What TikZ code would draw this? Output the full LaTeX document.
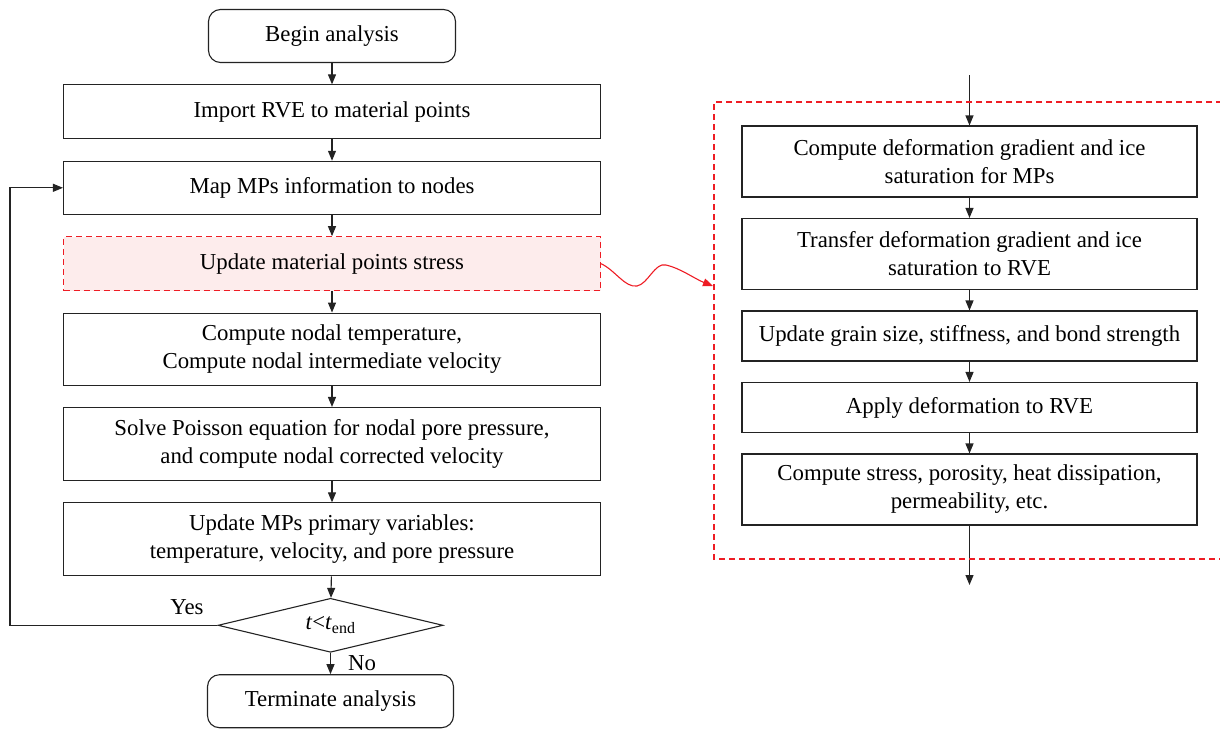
\documentclass[tikz,border=0pt]{standalone}
\usepackage{fontspec}
\setmainfont{Liberation Serif}
\newfontfamily\flowfamily{Liberation Serif}
\usetikzlibrary{shapes.geometric, arrows.meta, positioning, calc}
\definecolor{linegray}{RGB}{35,35,35}
\definecolor{stressred}{RGB}{238,28,36}
\definecolor{stressfill}{RGB}{253,236,236}
\newcommand{\flowfont}{\flowfamily\fontsize{22.8}{28}\selectfont}
\tikzset{
    box/.style={
        rectangle, minimum width=537pt, minimum height=#1,
        draw=linegray, line width=1.1pt,
        font=\flowfont, align=center, inner sep=2pt
    },
    rvebox/.style={
        box=#1, minimum width=455pt
    },
    startbox/.style={
        box=53pt, rounded corners=12pt, minimum width=247pt
    },
    stressbox/.style={
        box=54pt, draw=stressred, fill=stressfill,
        dash pattern=on 6pt off 4pt
    },
    decision/.style={
        diamond, aspect=4.2, minimum width=225pt, minimum height=54pt,
        draw=linegray, line width=1.1pt, font=\flowfont, inner sep=1pt
    },
    arrow/.style={-{Triangle[length=10pt, width=8pt]}, line width=1.1pt, color=linegray},
    redarrow/.style={-{Triangle[length=10pt, width=8pt]}, line width=1.1pt, color=stressred},
    subframe/.style={draw=stressred, line width=1.1pt, dash pattern=on 6pt off 4pt},
    anno/.style={font=\flowfont}
}
\begin{document}
\begin{tikzpicture}[x=1pt, y=-1pt, node distance=21.3pt]
    \useasboundingbox (0,0) rectangle (1220,731);

    % Main MPM loop - vertical
    \node[startbox] (begin) at (332,36) {Begin analysis};
    \node[box=54pt, below=of begin] (import) {Import RVE to material points};
    \node[box=53pt, below=of import] (map) {Map MPs information to nodes};
    \node[stressbox, below=of map] (upd) {Update material points stress};
    \node[box=72pt, below=of upd] (temp) {Compute nodal temperature,\\Compute nodal intermediate velocity};
    \node[box=73pt, below=of temp] (poisson) {Solve Poisson equation for nodal pore pressure,\\and compute nodal corrected velocity};
    \node[box=73pt, below=of poisson] (prim) {Update MPs primary variables:\\temperature, velocity, and pore pressure};
    \node[decision, below=of prim, xshift=-1.5pt] (check) {\textit{t}<\textit{t}\textsubscript{end}};
    \node[startbox, below=of check, minimum width=246pt] (term) {Terminate analysis};

    % Arrows
    \draw[arrow] (begin) -- (import);
    \draw[arrow] (import) -- (map);
    \draw[arrow] (map) -- (upd);
    \draw[arrow] (upd) -- (temp);
    \draw[arrow] (temp) -- (poisson);
    \draw[arrow] (poisson) -- (prim);
    \draw[arrow] (prim) -- (check);
    \draw[arrow] (check) -- (term);
    \node[anno] at (362,663) {No};

    % Loop back
    \coordinate (loopx) at (10,0);
    \draw[arrow] (check.west) -- (check.west -| loopx) |- (map.west);
    \node[anno] at (187,607) {Yes};

    % RVE sub-steps - right column
    \begin{scope}[node distance=20.4pt]
        \node[rvebox=71pt] (grad) at (969.5,161.5) {Compute deformation gradient and ice\\saturation for MPs};
        \node[rvebox=71pt, below=of grad] (transfer) {Transfer deformation gradient and ice\\saturation to RVE};
        \node[rvebox=50pt, below=of transfer] (grain) {Update grain size, stiffness, and bond strength};
        \node[rvebox=50pt, below=of grain] (deform) {Apply deformation to RVE};
        \node[rvebox=71pt, below=of deform] (output) {Compute stress, porosity, heat dissipation,\\permeability, etc.};
    \end{scope}

    \coordinate (rin) at (969.5,75);
    \coordinate (rout) at (969.5,585);
    \draw[arrow] (rin) -- (grad);
    \draw[arrow] (grad) -- (transfer);
    \draw[arrow] (transfer) -- (grain);
    \draw[arrow] (grain) -- (deform);
    \draw[arrow] (deform) -- (output);
    \draw[arrow] (output) -- (rout);

    % Dashed frame round the RVE steps, open to the right
    \draw[subframe] (1222,102) -- (714,102) -- (714,559) -- (1222,559);

    % Wavy link from the stress update to the frame
    \coordinate (hit) at (713,286);
    \draw[redarrow] (upd.east) .. controls (615,270) and (625,288) .. (637,286)
        .. controls (648,284) and (655,262) .. (666,265)
        .. controls (680,268) and (695,279) .. (hit);

\end{tikzpicture}
\end{document}
